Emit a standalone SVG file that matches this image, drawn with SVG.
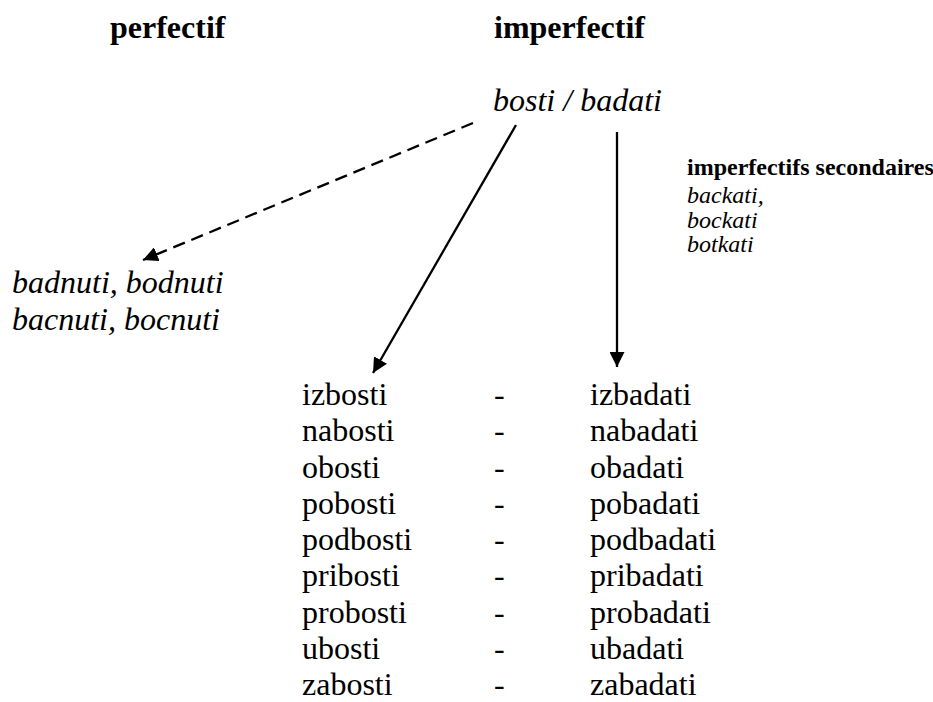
<svg xmlns="http://www.w3.org/2000/svg" width="933" height="702" viewBox="0 0 933 702">
<style>
text{font-family:"Liberation Serif","Times New Roman",serif;fill:#000}
.h{font-size:32px;font-weight:bold}
.it{font-size:32px;font-style:italic}
.r{font-size:32px}
.sb{font-size:24px;font-weight:bold}
.si{font-size:24px;font-style:italic}
.ln{stroke:#000;stroke-width:2.3;fill:none}
.dash{stroke-dasharray:12.5 7}
</style>
<defs>
<marker id="ah" viewBox="0 0 15 15" refX="15" refY="7.5" markerWidth="15" markerHeight="15" markerUnits="userSpaceOnUse" orient="auto">
<path d="M0,0 L15,7.5 L0,15 Z" fill="#000"/>
</marker>
</defs>
<rect width="933" height="702" fill="#fff"/>
<g id="headers">
<text class="h" x="110" y="38">perfectif</text>
<text class="h" x="494" y="38">imperfectif</text>
</g>
<g id="root"><text class="it" x="493" y="111">bosti / badati</text></g>
<g id="perfectifs">
<text class="it" x="12" y="293">badnuti, bodnuti</text>
<text class="it" x="12" y="330">bacnuti, bocnuti</text>
</g>
<g id="secondaires">
<text class="sb" x="687" y="175">imperfectifs secondaires</text>
<text class="si" x="687" y="203">backati,</text>
<text class="si" x="687" y="228">bockati</text>
<text class="si" x="687" y="252">botkati</text>
</g>
<g id="liste">
<text class="r" x="302" y="405">izbosti</text>
<text class="r" x="302" y="441.25">nabosti</text>
<text class="r" x="302" y="477.5">obosti</text>
<text class="r" x="302" y="513.75">pobosti</text>
<text class="r" x="302" y="550">podbosti</text>
<text class="r" x="302" y="586.25">pribosti</text>
<text class="r" x="302" y="622.5">probosti</text>
<text class="r" x="302" y="658.75">ubosti</text>
<text class="r" x="302" y="695">zabosti</text>
<text class="r" x="494" y="405">-</text>
<text class="r" x="494" y="441.25">-</text>
<text class="r" x="494" y="477.5">-</text>
<text class="r" x="494" y="513.75">-</text>
<text class="r" x="494" y="550">-</text>
<text class="r" x="494" y="586.25">-</text>
<text class="r" x="494" y="622.5">-</text>
<text class="r" x="494" y="658.75">-</text>
<text class="r" x="494" y="695">-</text>
<text class="r" x="590" y="405">izbadati</text>
<text class="r" x="590" y="441.25">nabadati</text>
<text class="r" x="590" y="477.5">obadati</text>
<text class="r" x="590" y="513.75">pobadati</text>
<text class="r" x="590" y="550">podbadati</text>
<text class="r" x="590" y="586.25">pribadati</text>
<text class="r" x="590" y="622.5">probadati</text>
<text class="r" x="590" y="658.75">ubadati</text>
<text class="r" x="590" y="695">zabadati</text>
</g>
<g id="connectors">
<line class="ln dash" x1="473" y1="123" x2="143" y2="260" marker-end="url(#ah)"/>
<line class="ln" x1="516" y1="125" x2="373" y2="373" marker-end="url(#ah)"/>
<line class="ln" x1="617" y1="132" x2="617" y2="367" marker-end="url(#ah)"/>
</g>
</svg>
